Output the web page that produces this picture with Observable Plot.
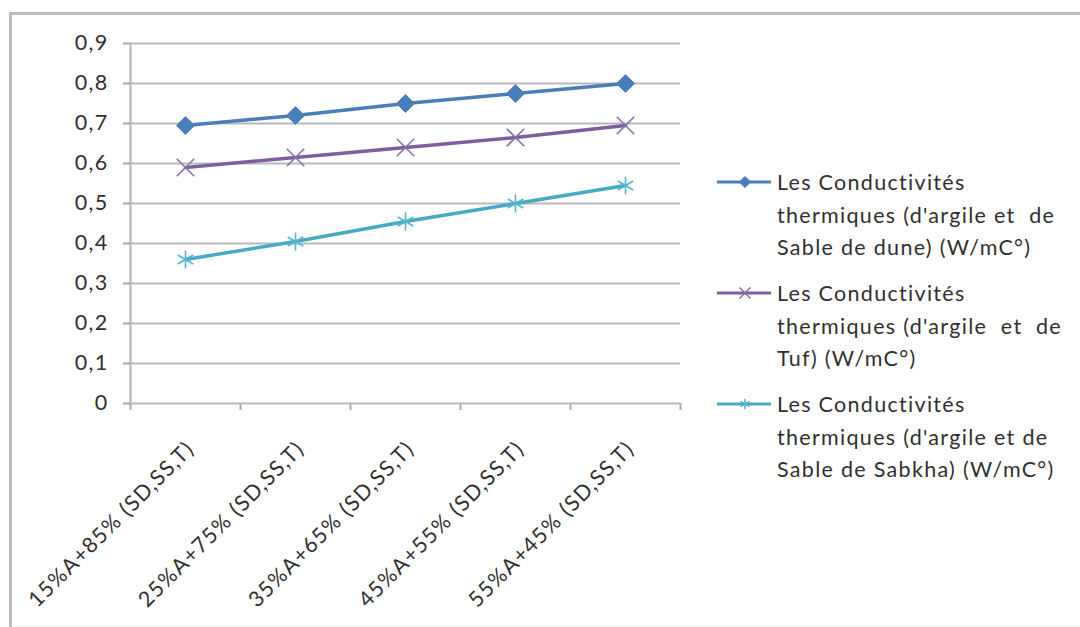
<!DOCTYPE html>
<html>
<head>
<meta charset="utf-8">
<script src="https://cdn.jsdelivr.net/npm/d3@7"></script>
<script src="https://cdn.jsdelivr.net/npm/@observablehq/plot@0.6"></script>
<style>
  html, body { margin: 0; padding: 0; background: #fff; }
  #wrap { position: relative; width: 1080px; height: 627px; overflow: hidden;
          font-family: Lato, "Open Sans", sans-serif; color: #303030; }
  #frame { position: absolute; left: 9px; top: 12px; width: 1100px; height: 611px;
           border: 3px solid #bcbcbc; border-bottom-color: #efefef; }
  #chart { position: absolute; left: 0; top: 0; }
  #chart svg text { fill: #303030; }
  #chart g[aria-label="y-axis tick"], #chart g[aria-label="x-axis tick"],
  #chart .tick line { stroke-width: 2px; }
  #legend { position: absolute; left: 715px; top: 166px; }
  .entry { position: relative; margin-bottom: 13.5px; }
  .entry svg { position: absolute; left: 0; top: 0; }
  .entry div { margin-left: 62px; font-size: 21.5px; letter-spacing: 1.3px;
               line-height: 32.5px; white-space: pre; }
</style>
</head>
<body>
<div id="wrap">
  <div id="frame"></div>
  <div id="chart"></div>
  <div id="legend"></div>
</div>
<script>
// Mix proportions (clay A + sand/tuff)
const categories = [
  "15%A+85% (SD,SS,T)",
  "25%A+75% (SD,SS,T)",
  "35%A+65% (SD,SS,T)",
  "45%A+55% (SD,SS,T)",
  "55%A+45% (SD,SS,T)"
];

// Thermal conductivity (W/mC°) of each mix
const dune   = [0.695, 0.72, 0.75, 0.775, 0.80];
const tuf    = [0.59, 0.615, 0.64, 0.665, 0.695];
const sabkha = [0.36, 0.405, 0.455, 0.50, 0.545];

const seriesNames = [
  "Les Conductivités\nthermiques (d'argile et  de\nSable de dune) (W/mC°)",
  "Les Conductivités\nthermiques (d'argile  et  de\nTuf) (W/mC°)",
  "Les Conductivités\nthermiques (d'argile et de\nSable de Sabkha) (W/mC°)"
];

const yTicks = [0, 0.1, 0.2, 0.3, 0.4, 0.5, 0.6, 0.7, 0.8, 0.9];

// Styling per series: line colour, marker symbol, marker fill
const styles = [
  {color: "#4a7ebb", mark: "#4a7ebb", symbol: "diamond2", fill: "#4a7ebb", r: 8, sw: 1},
  {color: "#7d5fa0", mark: "#8a70ab", symbol: "times", fill: "none", r: 8, sw: 1.6},
  {color: "#46aac4", mark: "#58b4cc", symbol: "asterisk", fill: "none", r: 8.5, sw: 1.6}
];

const values = [dune, tuf, sabkha];
const idx = categories.map((_, i) => i);
const bounds = d3.range(categories.length + 1).map(i => i - 0.5);

const seriesMarks = values.flatMap((vals, s) => {
  const rows = vals.map((v, i) => ({i, v}));
  const st = styles[s];
  return [
    Plot.line(rows, {x: "i", y: "v", stroke: st.color, strokeWidth: 3.5}),
    Plot.dot(rows, {x: "i", y: "v", symbol: st.symbol, r: st.r,
                    fill: st.fill, stroke: st.mark, strokeWidth: st.sw})
  ];
});

const fmt = d => d === 0 ? "0" : d3.format(".1f")(d).replace(".", ",");

const chart = Plot.plot({
  width: 1080,
  height: 627,
  marginLeft: 130,
  marginRight: 400,
  marginTop: 43,
  marginBottom: 224,
  style: {fontFamily: "Lato, 'Open Sans', sans-serif", fontSize: "21.5px",
          letterSpacing: "1.3px", color: "#a9a9a9",
          background: "transparent", overflow: "visible"},
  x: {domain: [-0.5, categories.length - 0.5], ticks: bounds, tickSize: 7,
      tickFormat: () => "", label: null},
  y: {domain: [0, 0.9], ticks: yTicks, tickSize: 7, tickPadding: 15,
      tickFormat: fmt, label: null},
  marks: [
    Plot.ruleY(yTicks, {stroke: "#b9b9b9", strokeWidth: 2}),
    Plot.ruleX([-0.5], {stroke: "#b3b3b3", strokeWidth: 2}),
    ...seriesMarks,
    Plot.text(idx, {x: d => d, y: () => 0, text: d => categories[d],
                    rotate: -45, textAnchor: "end", dx: 5, dy: 42,
                    fill: "#303030", fontSize: 21.5})
  ]
});
document.getElementById("chart").appendChild(chart);

// Legend: line swatch with marker, then the wrapped series label
const legend = d3.select("#legend");
seriesNames.forEach((name, s) => {
  const st = styles[s];
  const e = legend.append("div").attr("class", "entry");
  const svg = e.append("svg").attr("width", 60).attr("height", 33);
  svg.append("line").attr("x1", 2).attr("x2", 56).attr("y1", 16).attr("y2", 16)
     .attr("stroke", st.color).attr("stroke-width", 3);
  const sym = {diamond2: d3.symbolDiamond2, times: d3.symbolTimes, asterisk: d3.symbolAsterisk}[st.symbol];
  svg.append("path").attr("transform", "translate(30,16)")
     .attr("d", d3.symbol(sym, 80)())
     .attr("fill", st.fill).attr("stroke", st.mark).attr("stroke-width", st.sw);
  e.append("div").text(name);
});
</script>
</body>
</html>
